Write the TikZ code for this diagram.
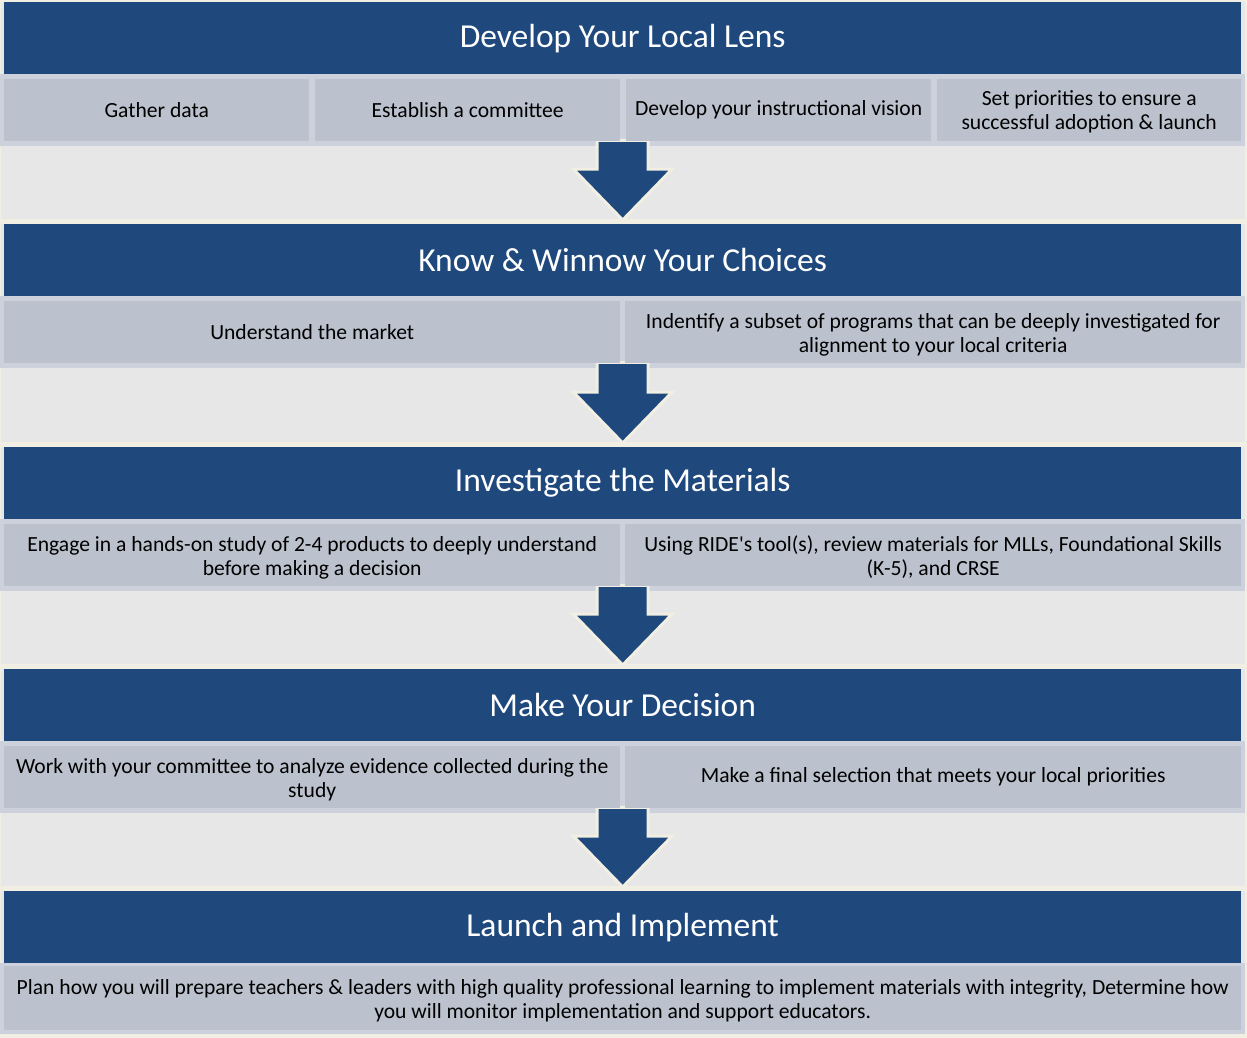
\documentclass[tikz,border=0pt]{standalone}
\usepackage{fontspec}
\setmainfont{Carlito}[Ligatures=TeXOff]
\usetikzlibrary{calc}
\definecolor{hdr}{HTML}{1F497D}
\definecolor{cellfill}{HTML}{BBC1CD}
\definecolor{cellline}{HTML}{CDD1DB}
\definecolor{bggray}{HTML}{E7E7E7}
\definecolor{cream}{HTML}{F1EFE3}
\newcommand\blockarrow[2]{%
  \fill[hdr, draw=cream, line width=3pt, line join=miter]
    let \p1=(#1.south), \p2=(#2.north) in
    (\x2-25.5pt,\y1+6pt) -- (\x2-25.5pt,\y2+55pt) -- (\x2-49.5pt,\y2+55pt) --
    (\x2,\y2+4pt) -- (\x2+49.5pt,\y2+55pt) -- (\x2+25.5pt,\y2+55pt) --
    (\x2+25.5pt,\y1+6pt) -- cycle;}
\newcommand\twolines[1]{\raisebox{-3pt}[\height][\depth]{\begin{tabular}{@{}c@{}}#1\end{tabular}}}
\begin{document}
\begin{tikzpicture}[x=1pt,y=-1pt,
  hdrbox/.style={fill=hdr, draw=none, minimum height=72pt, minimum width=1237pt,
    inner sep=0pt, text=white, font=\fontsize{33.5}{38}\selectfont, anchor=north west},
  rowband/.style={fill=cellline, draw=none, minimum height=72pt, minimum width=1245pt,
    inner sep=0pt, anchor=north west},
  cellbox/.style={fill=cellfill, draw=none, minimum height=62pt, inner sep=0pt,
    align=center, anchor=north west, font=\fontsize{21.6}{24}\selectfont},
  graysec/.style={fill=bggray, draw=none}]
\useasboundingbox (0,0) rectangle (1247,1038);
\fill[cream] (0,0) rectangle (1247,1038);
% gray sections
\fill[graysec] (1,2) rectangle (1245,219);
\fill[graysec] (1,224) rectangle (1245,442);
\fill[graysec] (1,447) rectangle (1245,664);
\fill[graysec] (1,669) rectangle (1245,886);
\fill[graysec] (1,891) rectangle (1245,1034);
% headers
\node[hdrbox] (h1) at (4,2) {Develop Your Local Lens};
\node[hdrbox] (h2) at (4,224) {Know \& Winnow Your Choices};
\node[hdrbox] (h3) at (4,447) {Investigate the Materials};
\node[hdrbox] (h4) at (4,669) {Make Your Decision};
\node[hdrbox] (h5) at (4,891) {Launch and Implement};
% row bands
\node[rowband] (r1) at (0,74) {};
\node[rowband] (r2) at (0,296) {};
\node[rowband] (r3) at (0,519) {};
\node[rowband] (r4) at (0,741) {};
\node[rowband, minimum height=71pt] (r5) at (0,963) {};
% arrows
\blockarrow{r1}{h2}
\blockarrow{r2}{h3}
\blockarrow{r3}{h4}
\blockarrow{r4}{h5}
% cells row 1
\node[cellbox, minimum width=305pt] (c11) at (4,79) {Gather data};
\node[cellbox, minimum width=305pt] (c12) at (315,79) {Establish a committee};
\node[cellbox, minimum width=305pt] (c13) at (626,79) {Develop your instructional vision};
\node[cellbox, minimum width=304pt] (c14) at (937,79) {\twolines{Set priorities to ensure a\\successful adoption \& launch}};
% cells row 2
\node[cellbox, minimum width=616pt] (c21) at (4,301) {Understand the market};
\node[cellbox, minimum width=616pt] (c22) at (625,301) {\twolines{Indentify a subset of programs that can be deeply investigated for\\alignment to your local criteria}};
% cells row 3
\node[cellbox, minimum width=616pt] (c31) at (4,524) {\twolines{Engage in a hands-on study of 2-4 products to deeply understand\\before making a decision}};
\node[cellbox, minimum width=616pt] (c32) at (625,524) {\twolines{Using RIDE's tool(s), review materials for MLLs, Foundational Skills\\(K-5), and CRSE}};
% cells row 4
\node[cellbox, minimum width=616pt] (c41) at (4,746) {\twolines{Work with your committee to analyze evidence collected during the\\study}};
\node[cellbox, minimum width=616pt] (c42) at (625,746) {Make a final selection that meets your local priorities};
% cells row 5
\node[cellbox, minimum width=1237pt, minimum height=64pt] (c51) at (4,966) {\twolines{Plan how you will prepare teachers \& leaders with high quality professional learning to implement materials with integrity, Determine how\\you will monitor implementation and support educators.}};
\end{tikzpicture}
\end{document}
